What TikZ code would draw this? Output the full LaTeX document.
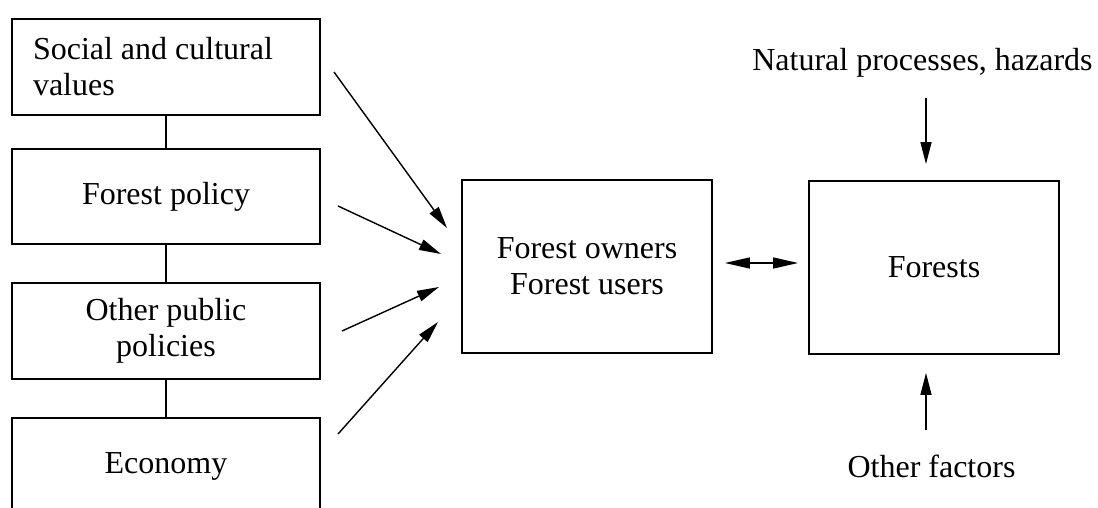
\documentclass[tikz,border=0pt]{standalone}
\usepackage{fontspec}
\setmainfont{Liberation Serif}
\usepackage{tikz}
\usetikzlibrary{arrows.meta, positioning}

\begin{document}
\begin{tikzpicture}[
  x=1pt, y=-1pt,
  pbox/.style={draw, line width=1.8pt, minimum width=308pt, align=center, inner sep=0pt},
  bigbox/.style={draw, line width=1.8pt, minimum width=250pt, minimum height=173pt, align=center, inner sep=0pt},
  arr/.style={-{Triangle[length=22pt, width=11pt]}, line width=1.4pt},
  link/.style={line width=1.4pt},
  every node/.style={font=\fontsize{32}{36}\selectfont}
]
  \useasboundingbox (0,0) rectangle (1098,508);
  \clip (0,0) rectangle (1098,508);

  % influences on the left
  \node[pbox, minimum height=96pt, text width=266pt, align=flush left, inner xsep=21pt] (values) at (166,67) {Social and cultural\\values};
  \node[pbox, minimum height=95pt] (fpolicy) at (166,196.5) {Forest policy};
  \node[pbox, minimum height=96pt] (opolicy) at (166,331) {Other public\\policies};
  \node[pbox, minimum height=96pt] (economy) at (166,466) {Economy};

  \draw[link] (values) -- (fpolicy);
  \draw[link] (fpolicy) -- (opolicy);
  \draw[link] (opolicy) -- (economy);

  % actors and forests
  \node[bigbox] (owners) at (587,266.5) {Forest owners\\Forest users};
  \node[bigbox] (forests) at (934,267.5) {Forests};

  \node[anchor=base] (natural) at (922.5,71) {Natural processes, hazards};
  \node[anchor=base] (other) at (931.5,477) {Other factors};

  % arrow ends
  \coordinate (v-out) at (334,72);
  \coordinate (f-out) at (338,206);
  \coordinate (o-out) at (342,331);
  \coordinate (e-out) at (338,434);
  \coordinate (v-in) at (447,228);
  \coordinate (f-in) at (441,254);
  \coordinate (o-in) at (439,287);
  \coordinate (e-in) at (438,322);
  \coordinate (n-out) at (926,98);
  \coordinate (x-out) at (926,430);

  \draw[arr] (v-out) -- (v-in);
  \draw[arr] (f-out) -- (f-in);
  \draw[arr] (o-out) -- (o-in);
  \draw[arr] (e-out) -- (e-in);

  \draw[arr, {Triangle[length=25pt, width=11pt]}-{Triangle[length=25pt, width=11pt]}, shorten <=12pt, shorten >=10pt]
    ([yshift=3.5pt]owners.east) -- ([yshift=4.5pt]forests.west);

  \draw[arr, shorten >=16pt] (n-out) -- (n-out |- forests.north);
  \draw[arr, shorten >=18pt] (x-out) -- (x-out |- forests.south);
\end{tikzpicture}
\end{document}
